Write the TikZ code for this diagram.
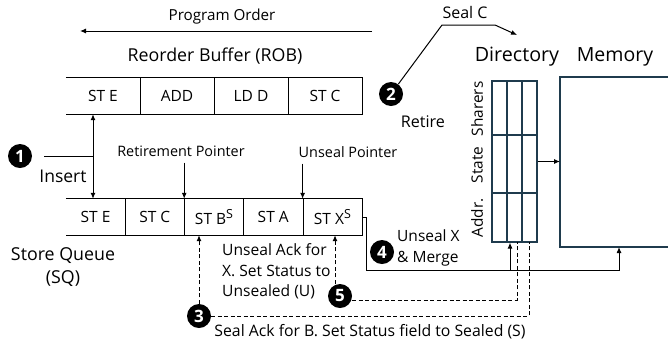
\documentclass[tikz,border=0pt]{standalone}
\usepackage{fontspec}
\setmainfont{Open Sans}
\usetikzlibrary{arrows.meta}
\definecolor{dirc}{HTML}{1F3B4D}
\newcommand\myfs[1]{\fontsize{#1}{#1}\selectfont}
\begin{document}
\begin{tikzpicture}[x=1pt,y=-1pt,
  every node/.style={inner sep=0pt},
  rcell/.style={minimum width=74pt, minimum height=36pt, font=\myfs{15.5}},
  scell/.style={minimum width=59.2pt, minimum height=36pt, font=\myfs{15.5}},
  num/.style={circle, fill=black, text=white, minimum size=24pt, inner sep=0pt, font=\myfs{17}\bfseries},
  ln/.style={line width=1pt},
  arr/.style={ln, -{Latex[length=6pt,width=5pt]}},
  dln/.style={ln, dash pattern=on 4pt off 2.5pt},
  dirl/.style={draw=dirc, line width=1.1pt}]
\useasboundingbox (0,0) rectangle (668,341);

% program order
\node (po) at (222,17) {\myfs{15.2}Program Order};
\coordinate (poR) at (372,31);
\coordinate (poL) at (80,31);
\draw[arr] (poR) -- (poL);

\node (robt) at (215,56) {\myfs{17.8}Reorder Buffer (ROB)};

% ROB
\node[rcell] (r1) at (103,96) {ST E};
\node[rcell] (r2) at (177,96) {ADD};
\node[rcell] (r3) at (251,96) {LD D};
\node[rcell] (r4) at (325,96) {ST C};
\draw[ln] (r1.north west) -- (r4.north east) -- (r4.south east) -- (r1.south west);
\foreach \c in {r1,r2,r3} \draw[ln] (\c.north east) -- (\c.south east);

% SQ
\node[scell] (s1) at (95.6,217) {ST E};
\node[scell] (s2) at (154.8,217) {ST C};
\node[scell] (s3) at (214,217) {ST B\raisebox{6.5pt}{\myfs{12.5}S}};
\node[scell] (s4) at (273.2,217) {ST A};
\node[scell] (s5) at (332.4,217) {ST X\raisebox{6.5pt}{\myfs{12.5}S}};
\draw[ln] (s1.north west) -- (s5.north east) -- (s5.south east) -- (s1.south west);
\foreach \c in {s1,s2,s3,s4} \draw[ln] (\c.north east) -- (\c.south east);

\node at (63,256) {\myfs{17.8}Store Queue};
\node at (63,279) {\myfs{17.8}(SQ)};

% Insert
\node[num] (c1) at (20,156) {1};
\node (insT) at (63,176) {\myfs{17.5}Insert};
\coordinate (ins) at (93,156);
\draw[ln] ([xshift=12pt]c1.east) -- (ins);
\draw[arr] (ins) -- (ins |- r1.south);
\draw[arr] (ins) -- (ins |- s1.north);

% pointers
\node (rp) at (181,151) {\myfs{14.4}Retirement Pointer};
\draw[arr] ([yshift=-6pt]rp.south -| s3.north west) -- (s3.north west);
\node (up) at (348,152) {\myfs{14.4}Unseal Pointer};
\draw[arr] ([yshift=-6pt]up.south -| s5.north west) -- (s5.north west);

% directory
\node[dirl, minimum width=45pt, minimum height=161pt] (dir) at (514.5,161.5) {};
\draw[dirl] (507,81) -- (507,242);
\draw[dirl] (522,81) -- (522,242);
\draw[dirl] (492,135) -- (537,135);
\draw[dirl] (492,193) -- (537,193);
\node[rotate=90] at (477,109) {\myfs{15.4}Sharers};
\node[rotate=90] at (477,165) {\myfs{15.4}State};
\node[rotate=90] at (477,218) {\myfs{15.4}Addr.};
\node (dirT) at (517,57) {\myfs{19.7}Directory};
\node (memT) at (615,57) {\myfs{19.5}Memory};

% memory
\coordinate (memTL) at (560,77);
\coordinate (memBL) at (560,247);
\draw[dirl] (669,77) -- (memTL) -- (memBL) -- (669,247);
\draw[arr] (dir.east) -- (dir.east -| memTL);

% 2 retire
\node[num] (c2) at (391,94) {2};
\node at (423,122) {\myfs{16.1}Retire};
\node at (465,12) {\myfs{16}Seal C};
\coordinate (k1) at (442,25);
\coordinate (k2) at (495,25);
\coordinate (k3) at (517,35);
\draw[arr] (c2) -- (k1) -- (k2) -- (k3);

% 4 unseal & merge
\node[num] (c4) at (382,252) {4};
\node[anchor=west, align=left, font=\fontsize{15.5}{21}\selectfont] at (397,247.5) {Unseal X\\\& Merge};
\coordinate (jd) at (510,270);
\coordinate (jn) at (619,270);
\coordinate (memIn) at (619,247);
\draw[arr] (s5.east) -- ++(4,0) |- (jn) -- (memIn);
\draw[arr] (jd) -- (jd |- dir.south);

% 5 unseal ack
\node[num] (c5) at (340,296) {5};
\node[anchor=west, align=left, font=\fontsize{15.6}{20.5}\selectfont] at (222,271.5) {Unseal Ack for\\X. Set Status to\\Unsealed (U)};
\coordinate (d5) at (517,242);
\draw[dln] ([yshift=-4pt]c5.east) -| (d5);
\draw[dln, -{Latex[length=6pt,width=5pt]}] ([xshift=-5pt]c5.north) -- ([xshift=-5pt]c5.north |- s5.south);

% 3 seal ack
\node[num] (c3) at (199,316) {3};
\node at (370,332) {\myfs{15.8}Seal Ack for B. Set Status field to Sealed (S)};
\coordinate (d3) at (529,242);
\draw[dln] (c3.east) -| (d3);
\draw[dln, -{Latex[length=6pt,width=5pt]}] (c3.north) -- (c3.north |- s3.south);
\end{tikzpicture}
\end{document}
